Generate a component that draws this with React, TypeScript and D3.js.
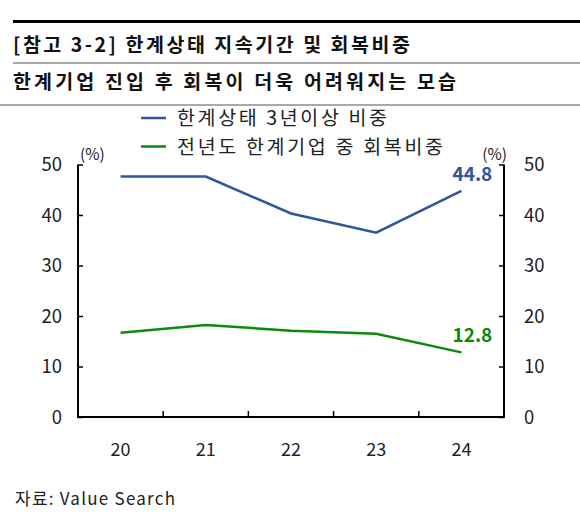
import * as d3 from "d3";
import { useEffect, useRef } from "react";

const years = ["20", "21", "22", "23", "24"];
const longStay = [47.6, 47.6, 40.3, 36.5, 44.8];
const recovery = [16.7, 18.2, 17.1, 16.5, 12.8];
const yTicks = [0, 10, 20, 30, 40, 50];

const series = [
  { name: "한계상태 3년이상 비중", values: longStay, color: "#2f559c", width: 210 },
  { name: "전년도 한계기업 중 회복비중", values: recovery, color: "#0b8a0b", width: 266 },
];

const FONT = "'Noto Sans CJK KR', 'Noto Sans', sans-serif";

export default function App() {
  const ref = useRef<SVGSVGElement | null>(null);

  useEffect(() => {
    if (!ref.current) return;
    const svg = d3.select(ref.current);
    svg.selectAll("*").remove();

    const left = 78;
    const right = 504;
    const top = 164.5;
    const bottom = 417;

    // header
    svg.append("line").attr("x1", 13).attr("x2", 580).attr("y1", 21.5).attr("y2", 21.5)
      .attr("stroke", "#000").attr("stroke-width", 3);
    svg.append("line").attr("x1", 13).attr("x2", 580).attr("y1", 63).attr("y2", 63)
      .attr("stroke", "#555").attr("stroke-width", 1.2);
    svg.append("line").attr("x1", 0).attr("x2", 580).attr("y1", 105).attr("y2", 105)
      .attr("stroke", "#555").attr("stroke-width", 1.2);
    svg.append("text").attr("x", 13).attr("y", 51.5).attr("font-size", 19.5)
      .attr("font-weight", "bold").attr("fill", "#111")
      .attr("textLength", 397).attr("lengthAdjust", "spacing")
      .text("[참고 3-2] 한계상태 지속기간 및 회복비중");
    svg.append("text").attr("x", 13).attr("y", 88.5).attr("font-size", 19.5)
      .attr("font-weight", "bold").attr("fill", "#111")
      .attr("textLength", 443).attr("lengthAdjust", "spacing")
      .text("한계기업 진입 후 회복이 더욱 어려워지는 모습");

    const x = d3.scaleBand().domain(years).range([left, right]);
    const y = d3.scaleLinear().domain([0, 50]).range([bottom, top]);

    const g = svg.append("g").attr("font-family", FONT);

    // axes
    const axisLeft = g.append("g").attr("transform", `translate(${left},0)`)
      .call(d3.axisRight(y).tickValues(yTicks).tickSize(5).tickFormat(() => ""));
    axisLeft.select(".domain").remove();
    const axisRight = g.append("g").attr("transform", `translate(${right},0)`)
      .call(d3.axisLeft(y).tickValues(yTicks).tickSize(5).tickFormat(() => ""));
    axisRight.select(".domain").remove();
    g.selectAll(".tick line").attr("stroke", "#000").attr("stroke-width", 1.5);

    g.append("path")
      .attr("d", `M${left},${top}V${bottom}H${right}V${top}`)
      .attr("fill", "none").attr("stroke", "#000").attr("stroke-width", 2);

    const boundaries = years.slice(1).map((yr) => x(yr)!);
    g.selectAll(".xtick").data(boundaries).join("line")
      .attr("x1", (d) => d).attr("x2", (d) => d)
      .attr("y1", bottom).attr("y2", bottom - 6)
      .attr("stroke", "#000").attr("stroke-width", 1.5);

    g.selectAll(".ylab-l").data(yTicks).join("text")
      .attr("x", 62).attr("y", (d) => y(d)).attr("dy", "0.36em")
      .attr("text-anchor", "end").attr("font-size", 18.5).attr("fill", "#222").text((d) => d);
    g.selectAll(".ylab-r").data(yTicks).join("text")
      .attr("x", 524).attr("y", (d) => y(d)).attr("dy", "0.36em")
      .attr("text-anchor", "start").attr("font-size", 18.5).attr("fill", "#222").text((d) => d);
    g.selectAll(".xlab").data(years).join("text")
      .attr("x", (d) => x(d)! + x.bandwidth() / 2).attr("y", 450).attr("dy", "0.36em")
      .attr("text-anchor", "middle").attr("font-size", 18).attr("fill", "#222").text((d) => d);

    g.append("text").attr("x", 80).attr("y", 160).attr("font-size", 15.5).attr("fill", "#222").text("(%)");
    g.append("text").attr("x", 507).attr("y", 160).attr("text-anchor", "end")
      .attr("font-size", 15.5).attr("fill", "#222").text("(%)");

    const line = d3.line<number>()
      .x((_, i) => x(years[i])! + x.bandwidth() / 2)
      .y((d) => y(d));

    series.forEach((s, k) => {
      g.append("path").attr("d", line(s.values)).attr("fill", "none")
        .attr("stroke", s.color).attr("stroke-width", 2.5);
      const last = s.values[s.values.length - 1];
      g.append("text")
        .attr("x", x(years[years.length - 1])! + x.bandwidth() / 2 + 11)
        .attr("y", y(last) - 10)
        .attr("text-anchor", "middle").attr("font-size", 19).attr("font-weight", "bold")
        .attr("fill", s.color).text(last.toFixed(1));

      const ly = 118 + k * 28.5;
      g.append("line").attr("x1", 141).attr("x2", 166).attr("y1", ly).attr("y2", ly)
        .attr("stroke", s.color).attr("stroke-width", 2.5);
      g.append("text").attr("x", 177).attr("y", ly).attr("dy", "0.36em")
        .attr("font-size", 19.5).attr("fill", "#222")
        .attr("textLength", s.width).attr("lengthAdjust", "spacing").text(s.name);
    });

    svg.append("text").attr("x", 15).attr("y", 499).attr("dy", "0.36em")
      .attr("font-family", FONT).attr("font-size", 17).attr("fill", "#222")
      .attr("textLength", 160).attr("lengthAdjust", "spacing").text("자료: Value Search");
  }, []);

  return (
    <svg ref={ref} width={580} height={515}
      style={{ position: "absolute", left: 0, top: 0, fontFamily: FONT, background: "#fff" }} />
  );
}
